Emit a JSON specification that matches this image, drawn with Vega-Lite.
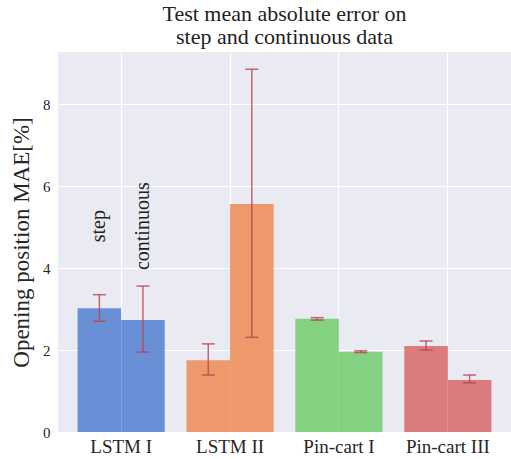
{
  "$schema": "https://vega.github.io/schema/vega-lite/v6.json",
  "width": 453,
  "height": 380,
  "autosize": {"type": "none"},
  "padding": {"left": 58, "top": 52, "right": 0, "bottom": 27},
  "background": "white",
  "title": {
    "text": ["Test mean absolute error on", "step and continuous data"],
    "font": "Liberation Serif",
    "fontSize": 22,
    "fontWeight": "normal",
    "color": "#222222",
    "lineHeight": 23,
    "offset": 3,
    "anchor": "middle"
  },
  "config": {
    "view": {"fill": "#eaeaf2", "stroke": null},
    "axis": {
      "grid": true,
      "gridColor": "white",
      "gridWidth": 1.2,
      "domain": false,
      "ticks": false,
      "labelFont": "Liberation Serif",
      "titleFont": "Liberation Serif",
      "labelColor": "#262626",
      "titleColor": "#262626",
      "titleFontWeight": "normal"
    }
  },
  "data": {
    "values": [
      {"model": "LSTM I", "type": "step", "value": 3.02, "lo": 2.70, "hi": 3.35},
      {"model": "LSTM I", "type": "continuous", "value": 2.73, "lo": 1.95, "hi": 3.56},
      {"model": "LSTM II", "type": "step", "value": 1.75, "lo": 1.39, "hi": 2.15},
      {"model": "LSTM II", "type": "continuous", "value": 5.56, "lo": 2.31, "hi": 8.85},
      {"model": "Pin-cart I", "type": "step", "value": 2.76, "lo": 2.73, "hi": 2.79},
      {"model": "Pin-cart I", "type": "continuous", "value": 1.96, "lo": 1.94, "hi": 1.98},
      {"model": "Pin-cart III", "type": "step", "value": 2.10, "lo": 2.00, "hi": 2.22},
      {"model": "Pin-cart III", "type": "continuous", "value": 1.27, "lo": 1.20, "hi": 1.39}
    ]
  },
  "encoding": {
    "x": {
      "field": "model",
      "type": "nominal",
      "sort": ["LSTM I", "LSTM II", "Pin-cart I", "Pin-cart III"],
      "scale": {"paddingInner": 0.2, "paddingOuter": 0.18},
      "axis": {"title": null, "labelAngle": 0, "labelFontSize": 19, "labelPadding": 5, "bandPosition": 0.5, "tickBand": "center"}
    },
    "xOffset": {
      "field": "type",
      "type": "nominal",
      "sort": ["step", "continuous"],
      "scale": {"paddingInner": 0, "paddingOuter": 0}
    }
  },
  "layer": [
    {
      "mark": {"type": "bar", "opacity": 0.8},
      "encoding": {
        "y": {
          "field": "value",
          "type": "quantitative",
          "scale": {"domain": [0, 9.27], "nice": false},
          "axis": {
            "title": "Opening position MAE[%]",
            "titleFontSize": 23,
            "titlePadding": 9,
            "labelFontSize": 15,
            "labelPadding": 8,
            "values": [0, 2, 4, 6, 8]
          }
        },
        "color": {
          "field": "model",
          "type": "nominal",
          "scale": {"domain": ["LSTM I", "LSTM II", "Pin-cart I", "Pin-cart III"], "range": ["#4878d0", "#ee854a", "#6acc64", "#d65f5f"]},
          "legend": null
        }
      }
    },
    {
      "mark": {"type": "rule", "color": "#b5454f", "opacity": 0.8, "strokeWidth": 1.5},
      "encoding": {
        "y": {"field": "lo", "type": "quantitative"},
        "y2": {"field": "hi"}
      }
    },
    {
      "mark": {"type": "tick", "color": "#b5454f", "opacity": 0.8, "thickness": 1.5, "size": 13},
      "encoding": {
        "y": {"field": "lo", "type": "quantitative"}
      }
    },
    {
      "mark": {"type": "tick", "color": "#b5454f", "opacity": 0.8, "thickness": 1.5, "size": 13},
      "encoding": {
        "y": {"field": "hi", "type": "quantitative"}
      }
    },
    {
      "transform": [{"filter": "datum.model === 'LSTM I'"}],
      "mark": {"type": "text", "angle": 270, "align": "center", "baseline": "middle", "font": "Liberation Serif", "fontSize": 20, "color": "#222222"},
      "encoding": {
        "y": {"datum": 5.02, "type": "quantitative"},
        "text": {"field": "type"}
      }
    }
  ]
}
